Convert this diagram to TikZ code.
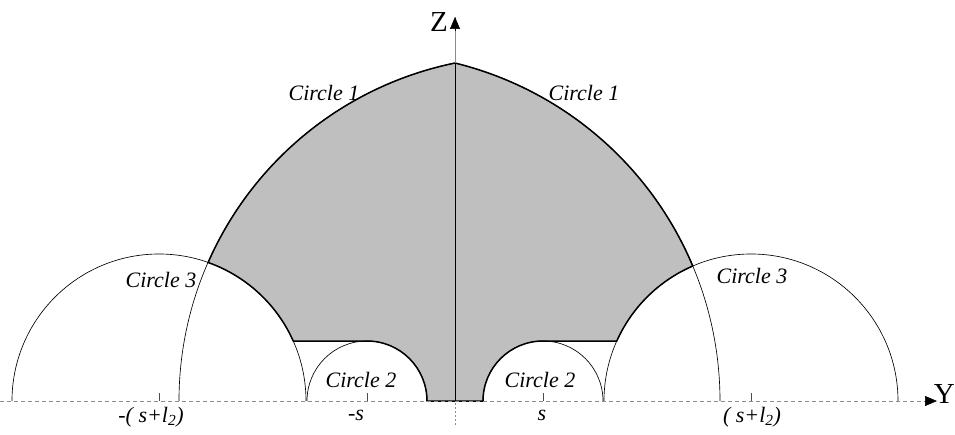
\documentclass[tikz,border=0pt]{standalone}
\usepackage{fontspec}
\setmainfont{Liberation Serif}
\usetikzlibrary{arrows.meta,positioning}

\begin{document}
\begin{tikzpicture}[
  x=1pt, y=1pt,
  thinline/.style={line width=0.65pt},
  region/.style={
    draw,
    fill=black!25,
    line width=1.5pt,
    line join=round
  },
  axis/.style={line width=0.6pt, black!45},
  tickmark/.style={line width=0.6pt, black!70},
  arrowtip/.style={-{Triangle[length=12pt,width=10pt]}, line width=0.6pt},
  lbl/.style={font=\fontsize{22}{24}\selectfont\itshape, inner sep=0pt},
  axlabel/.style={font=\fontsize{29}{32}\selectfont, inner sep=0pt}
]
\useasboundingbox (-455,-33) rectangle (500,401);

% --- Reference points ---
\coordinate (O) at (0,0);
\coordinate (yorig) at (-455,0);
\coordinate (yarrow) at (470,0);
\coordinate (ytip) at (482,0);
\coordinate (zbot) at (0,-24);
\coordinate (ztip) at (0,384);
\coordinate (apex) at (0,338);

% --- Shaded region (bold outline) ---
\path[region]
  (O) -- (28,0) arc[start angle=180, end angle=90, radius=60]
  -- (161.8,60) arc[start angle=155.91, end angle=113.33, radius=147]
  arc[start angle=22.82, end angle=76.20, radius=348]
  arc[start angle=101.54, end angle=156.32, radius=345]
  arc[start angle=70.53, end angle=24.09, radius=147]
  -- (-88,60) arc[start angle=90, end angle=0, radius=60]
  -- cycle;

% --- Circles 1 (thin, down to the Y axis) ---
\draw[thinline] (69,0) ++(101.54:345) arc[start angle=101.54, end angle=180, radius=345];
\draw[thinline] (-83,0) ++(76.20:348) arc[start angle=76.20, end angle=0, radius=348];

% --- Circles 2 and 3 ---
\draw[thinline] (-148,0) arc[start angle=180, end angle=0, radius=60];
\draw[thinline] (28,0) arc[start angle=180, end angle=0, radius=60];
\draw[thinline] (-443,0) arc[start angle=180, end angle=0, radius=147];
\draw[thinline] (149,0) arc[start angle=180, end angle=0, radius=147];

% --- Axes ---
\draw[axis, dash pattern=on 4pt off 3pt] (yorig) -- (yarrow);
\draw[arrowtip] (yarrow) -- (ytip);
\draw[axis, dash pattern=on 2pt off 2pt] (zbot) -- (O);
\draw[axis] (apex) -- (ztip);
\draw[arrowtip] (0,370) -- (ztip);
\draw[line width=0.8pt] (O) -- (apex);

\node[axlabel, anchor=base east] (zlabel) at (-7,369) {Z};
\node[axlabel, anchor=base east] (ylabel) at (500,-2) {Y};

% Ticks on the Y axis
\draw[tickmark] (-296,0) -- (-296,8);
\draw[tickmark] (-88,0) -- (-88,8);
\draw[tickmark] (88,0) -- (88,8);
\draw[tickmark] (296,0) -- (296,8);

% --- Labels ---
\node[lbl] (c1left) at (-131,308) {Circle 1};
\node[lbl] (c1right) at (129,308) {Circle 1};
\node[lbl] (c3left) at (-294,121) {Circle 3};
\node[lbl] (c3right) at (297,125) {Circle 3};
\node[lbl] (c2left) at (-94,21) {Circle 2};
\node[lbl] (c2right) at (85,21) {Circle 2};

\node[lbl] (mslt) at (-304,-16) {-( s+l\textsubscript{2})};
\node[lbl] (ms) at (-99,-14) {-s};
\node[lbl] (ps) at (87,-14) {s};
\node[lbl] (pslt) at (297,-16) {( s+l\textsubscript{2})};

\end{tikzpicture}
\end{document}
